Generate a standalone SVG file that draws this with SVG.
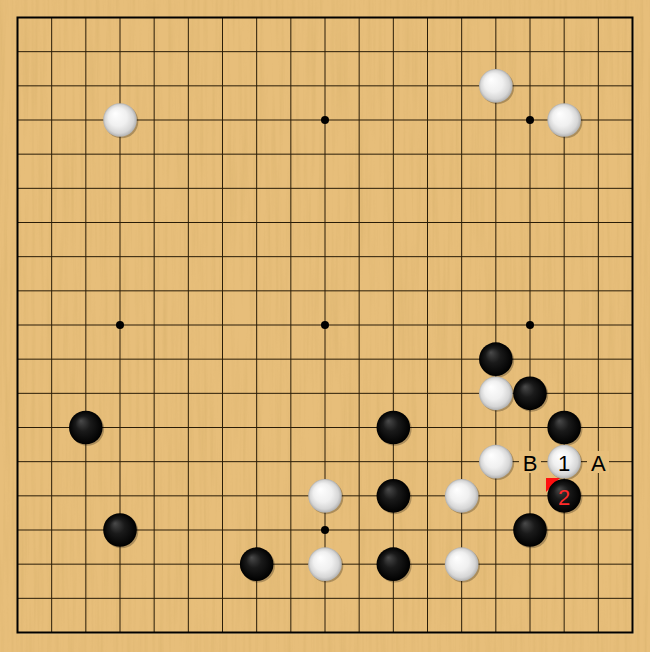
<svg xmlns="http://www.w3.org/2000/svg" width="650" height="652" viewBox="0 0 650 652">
<defs>
<filter id="grain" x="0" y="0" width="100%" height="100%">
<feTurbulence type="fractalNoise" baseFrequency="0.25 0.008" numOctaves="3" seed="4" result="n"/>
<feColorMatrix in="n" type="matrix" values="0 0 0 0 0.55  0 0 0 0 0.35  0 0 0 0 0.1  0 0 0 -1.3 0.75"/>
</filter>
<radialGradient id="wg" cx="50%" cy="50%" r="50%" fx="35%" fy="30%">
<stop offset="0" stop-color="#ffffff"/>
<stop offset="0.55" stop-color="#f0f0f0"/>
<stop offset="0.85" stop-color="#d6d6d6"/>
<stop offset="1" stop-color="#b0b0b0"/>
</radialGradient>
<radialGradient id="bg" cx="50%" cy="50%" r="50%" fx="35%" fy="30%">
<stop offset="0" stop-color="#4a4a4a"/>
<stop offset="0.45" stop-color="#1a1a1a"/>
<stop offset="1" stop-color="#000000"/>
</radialGradient>
<g id="W"><circle cx="1.5" cy="1.5" r="16.8" fill="#000" opacity="0.25"/><circle r="16.8" fill="url(#wg)"/></g>
<g id="B"><circle cx="1.5" cy="1.5" r="16.8" fill="#000" opacity="0.25"/><circle r="16.8" fill="url(#bg)"/></g>
</defs>
<style>
.lbl{font-family:"Liberation Sans",Arial,sans-serif;font-size:22px;text-anchor:middle;dominant-baseline:central}
.grid{stroke:#2a1d08;stroke-width:1;fill:none}
.star{fill:#000}
</style>
<g id="board">
<rect x="0" y="0" width="650" height="652" fill="#e7be7a"/>
<rect x="0" y="0" width="650" height="652" filter="url(#grain)" opacity="0.35"/>
<path d="M18.5 633.5H633.5V18.5" stroke="#f0d29a" stroke-width="1.5" fill="none" opacity="0.7"/>
</g>
<g id="grid" class="grid">
<path d="M17.5 51.67H632.5M17.5 85.83H632.5M17.5 120H632.5M17.5 154.17H632.5M17.5 188.33H632.5M17.5 222.5H632.5M17.5 256.67H632.5M17.5 290.83H632.5M17.5 325H632.5M17.5 359.17H632.5M17.5 393.33H632.5M17.5 427.5H632.5M17.5 461.67H632.5M17.5 495.83H632.5M17.5 530H632.5M17.5 564.17H632.5M17.5 598.33H632.5"/>
<path d="M51.67 17.5V632.5M85.83 17.5V632.5M120 17.5V632.5M154.17 17.5V632.5M188.33 17.5V632.5M222.5 17.5V632.5M256.67 17.5V632.5M290.83 17.5V632.5M325 17.5V632.5M359.17 17.5V632.5M393.33 17.5V632.5M427.5 17.5V632.5M461.67 17.5V632.5M495.83 17.5V632.5M530 17.5V632.5M564.17 17.5V632.5M598.33 17.5V632.5"/>
<rect x="17.5" y="17.5" width="615" height="615" stroke="#000" stroke-width="2"/>
</g>
<g id="stars" class="star">
<circle cx="325" cy="120" r="4"/>
<circle cx="530" cy="120" r="4"/>
<circle cx="120" cy="325" r="4"/>
<circle cx="325" cy="325" r="4"/>
<circle cx="530" cy="325" r="4"/>
<circle cx="325" cy="530" r="4"/>
</g>
<g id="marker"><polygon points="546,478 560,478 546,492" fill="#ff1010"/></g>
<g id="stones">
<use href="#W" x="120" y="120"/>
<use href="#W" x="495.83" y="85.83"/>
<use href="#W" x="564.17" y="120"/>
<use href="#B" x="495.83" y="359.17"/>
<use href="#W" x="495.83" y="393.33"/>
<use href="#B" x="530" y="393.33"/>
<use href="#B" x="85.83" y="427.5"/>
<use href="#B" x="393.33" y="427.5"/>
<use href="#B" x="564.17" y="427.5"/>
<use href="#W" x="495.83" y="461.67"/>
<use href="#W" x="564.17" y="461.67"/>
<use href="#W" x="325" y="495.83"/>
<use href="#B" x="393.33" y="495.83"/>
<use href="#W" x="461.67" y="495.83"/>
<use href="#B" x="564.17" y="495.83"/>
<use href="#B" x="120" y="530"/>
<use href="#B" x="530" y="530"/>
<use href="#B" x="256.67" y="564.17"/>
<use href="#W" x="325" y="564.17"/>
<use href="#B" x="393.33" y="564.17"/>
<use href="#W" x="461.67" y="564.17"/>
</g>
<g id="labels">
<rect x="519" y="451" width="22" height="22" fill="#e7be7a"/>
<rect x="587" y="451" width="22" height="22" fill="#e7be7a"/>
<text class="lbl" x="530" y="463" fill="#000">B</text>
<text class="lbl" x="598.33" y="463" fill="#000">A</text>
<text class="lbl" x="564.17" y="463" fill="#000">1</text>
<text class="lbl" x="564.17" y="497" fill="#ff2a2a">2</text>
</g>
</svg>
